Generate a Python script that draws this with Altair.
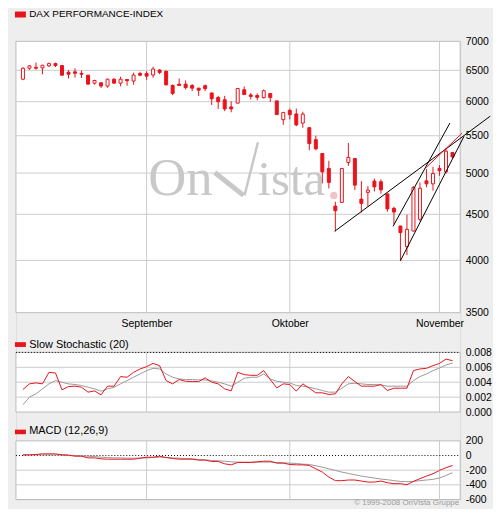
import altair as alt
import pandas as pd

# ---------------- data ----------------
day_index = list(range(67))
open_ = [6355, 6535, 6551, 6541, 6575, 6613, 6580, 6469, 6475, 6450,
         6420, 6291, 6297, 6244, 6355, 6291, 6350, 6325, 6448, 6448,
         6423, 6505, 6486, 6254, 6275, 6275, 6254, 6211, 6250, 6135,
         6065, 6030, 5920, 5978, 6186, 6104, 6096, 6063, 6127, 6012,
         5730, 5868, 5815, 5680, 5614, 5445, 5256, 5059, 4595, 4639,
         5137, 5189, 4678, 4759, 4898, 4890, 4740, 4569, 4367, 4143,
         4312, 4443, 4901, 4864, 5059, 5015, 5270]
high = [6551, 6585, 6630, 6592, 6630, 6630, 6585, 6502, 6535, 6497,
        6425, 6345, 6300, 6362, 6370, 6395, 6355, 6462, 6476, 6485,
        6560, 6522, 6495, 6270, 6366, 6334, 6275, 6215, 6270, 6140,
        6090, 6090, 6005, 6215, 6238, 6135, 6127, 6190, 6135, 6015,
        5843, 5895, 5895, 5847, 5620, 5500, 5260, 5158, 4646, 5065,
        5399, 5195, 4898, 4836, 4930, 4920, 4745, 4587, 4370, 4497,
        4836, 4880, 5050, 5080, 5101, 5324, 5275]
low = [6339, 6508, 6513, 6436, 6558, 6555, 6415, 6366, 6380, 6375,
       6270, 6266, 6215, 6218, 6280, 6240, 6250, 6265, 6403, 6345,
       6378, 6436, 6255, 6100, 6249, 6190, 6164, 6090, 6165, 5950,
       5890, 5856, 5840, 5972, 6104, 6035, 6022, 6048, 5995, 5800,
       5655, 5735, 5635, 5612, 5300, 5300, 4869, 4807, 4307, 4635,
       5092, 4787, 4520, 4590, 4770, 4745, 4530, 4385, 3995, 4056,
       4307, 4420, 4820, 4779, 4965, 4994, 5189]
close = [6535, 6575, 6535, 6585, 6613, 6580, 6420, 6436, 6452, 6436,
         6275, 6334, 6245, 6355, 6291, 6355, 6330, 6423, 6420, 6405,
         6522, 6465, 6264, 6128, 6254, 6220, 6211, 6179, 6203, 6045,
         6000, 5890, 5890, 6206, 6110, 6080, 6067, 6170, 6063, 5805,
         5838, 5805, 5655, 5812, 5390, 5320, 5015, 4882, 4541, 5059,
         5203, 4848, 4627, 4787, 4827, 4790, 4562, 4526, 4294, 4330,
         4820, 4809, 4864, 4994, 5030, 5287, 5210]

price_ticks = [3500, 4000, 4500, 5000, 5500, 6000, 6500, 7000]
month_labels = ["September", "Oktober", "November"]
month_index = [19, 41, 64]

trend_name = ["t1", "t1", "t2", "t2", "t3", "t3", "t4", "t4"]
trend_day = [47.9, 71.8, 56.87, 65.6, 57.99, 67.77, 61.87, 67.47]
trend_price = [4309, 5782, 4364, 5681, 3995, 5492, 5065, 5536]

stoch_k = [0.00302, 0.00378, 0.00391, 0.00378, 0.00533, 0.00524, 0.00298, 0.00342, 0.00347, 0.00333,
           0.00267, 0.00284, 0.00231, 0.00347, 0.00347, 0.00476, 0.00467, 0.00533, 0.00578, 0.00609,
           0.00653, 0.00622, 0.00422, 0.00378, 0.00436, 0.00413, 0.00409, 0.00409, 0.00458, 0.00400,
           0.00378, 0.00311, 0.00284, 0.00533, 0.00502, 0.00493, 0.00493, 0.00556, 0.00436, 0.00324,
           0.00378, 0.00369, 0.00280, 0.00378, 0.00320, 0.00258, 0.00258, 0.00236, 0.00244, 0.00378,
           0.00476, 0.00409, 0.00347, 0.00347, 0.00347, 0.00369, 0.00289, 0.00320, 0.00320, 0.00320,
           0.00556, 0.00578, 0.00587, 0.00622, 0.00653, 0.00711, 0.00689]
stoch_d = [0.00098, 0.00200, 0.00244, 0.00311, 0.00378, 0.00422, 0.00400, 0.00378, 0.00369, 0.00356,
           0.00333, 0.00311, 0.00280, 0.00311, 0.00333, 0.00378, 0.00422, 0.00467, 0.00511, 0.00556,
           0.00587, 0.00578, 0.00511, 0.00467, 0.00444, 0.00436, 0.00436, 0.00431, 0.00431, 0.00418,
           0.00400, 0.00378, 0.00347, 0.00400, 0.00453, 0.00467, 0.00467, 0.00511, 0.00444, 0.00413,
           0.00400, 0.00391, 0.00356, 0.00347, 0.00333, 0.00311, 0.00289, 0.00267, 0.00267, 0.00320,
           0.00378, 0.00387, 0.00378, 0.00369, 0.00369, 0.00364, 0.00347, 0.00347, 0.00347, 0.00347,
           0.00422, 0.00476, 0.00511, 0.00556, 0.00591, 0.00631, 0.00658]
stoch_ticks = [0.0, 0.002, 0.004, 0.006, 0.008]

macd = [9, 9, 14, 23, 23, 23, 9, 5, -9, -9,
        -32, -32, -45, -50, -50, -50, -50, -50, -36, -23,
        -23, -9, -27, -41, -50, -50, -50, -63, -63, -81,
        -81, -113, -127, -95, -95, -95, -86, -77, -77, -104,
        -104, -122, -127, -127, -136, -181, -226, -294, -343, -343,
        -334, -334, -348, -362, -362, -348, -371, -384, -384, -398,
        -353, -316, -280, -249, -203, -167, -136]
macd_signal = [9, 9, 9, 9, 9, 9, 9, 5, 0, -5,
               -9, -14, -23, -27, -32, -32, -36, -36, -36, -32,
               -27, -23, -27, -32, -36, -41, -45, -54, -59, -68,
               -72, -77, -86, -90, -90, -90, -90, -90, -90, -95,
               -99, -104, -108, -118, -122, -140, -158, -181, -203, -226,
               -244, -262, -280, -294, -307, -321, -330, -343, -353, -357,
               -353, -343, -334, -325, -307, -271, -235]
macd_ticks = [200, 0, -200, -400, -600]

# ---------------- frames ----------------
candles = pd.DataFrame({"i": day_index, "open": open_, "high": high, "low": low, "close": close})
months = pd.DataFrame({"i": month_index, "name": month_labels})
trend = pd.DataFrame({"name": trend_name, "i": trend_day, "price": trend_price})
osc = pd.DataFrame({"i": day_index, "k": stoch_k, "d": stoch_d, "macd": macd, "sig": macd_signal})

# ---------------- styling ----------------
RED = "#e8141c"
GRID = "#cccccc"
BORDER = "#bcbcbc"
WM = "#c8c8c8"
FONT = "Liberation Sans"
W = 447
H = 461
P_TOP, P_BOT = 0, 273
S_TOP, S_BOT = 313, 373
M_TOP, M_BOT = 402, 461

xsc = alt.Scale(domain=[-0.31, 66.42], nice=False, zero=False)
ysc_p = alt.Scale(type="log", domain=[price_ticks[0], price_ticks[-1]], range=[P_BOT, P_TOP], nice=False)
ysc_s = alt.Scale(domain=[stoch_ticks[0], stoch_ticks[-1]], range=[S_BOT, S_TOP], nice=False, zero=False)
ysc_m = alt.Scale(domain=[macd_ticks[-1], macd_ticks[0]], range=[M_BOT, M_TOP], nice=False, zero=False)

one = alt.Data(values=[{"k": 0}])


def ax_right(values, expr):
    return alt.Axis(orient="right", values=values, labelExpr=expr, grid=False, domain=False,
                    ticks=False, labelPadding=5, labelFontSize=10.5, labelFont=FONT,
                    labelColor="black", title=None)


month_expr = " : ".join(
    f"datum.value == {i} ? '{n}'" for i, n in zip(month_index[:-1], month_labels[:-1])
) + f" : '{month_labels[-1]}'"
month_axis = alt.Axis(orient="bottom", values=month_index, labelExpr=month_expr, offset=-(H - P_BOT),
                      grid=False, domain=False, ticks=False, labelPadding=6, labelAlign="center",
                      labelFontSize=10.5, labelFont=FONT, labelColor="black", labelFlush=False,
                      labelOverlap=False, title=None)

X = alt.X("i:Q", scale=xsc, axis=month_axis)


def panel_bg(top, bot):
    return alt.Chart(one).mark_rect(fill="white", stroke=BORDER, strokeWidth=1).encode(
        x=alt.value(0), x2=alt.value(W), y=alt.value(top), y2=alt.value(bot))


def month_grid(top, bot):
    return alt.Chart(months).mark_rule(color=GRID, strokeWidth=1).encode(
        x=X, y=alt.value(top), y2=alt.value(bot))


def hgrid(vals, sc, color=GRID, dash=None):
    kw = dict(color=color, strokeWidth=1)
    if dash:
        kw["strokeDash"] = dash
    return alt.Chart(pd.DataFrame({"v": vals})).mark_rule(**kw).encode(
        y=alt.Y("v:Q", scale=sc, axis=None), x=alt.value(0), x2=alt.value(W))


def header(text, sq_top, sq_bot, base_y, size):
    sq = alt.Chart(one).mark_rect(color=RED).encode(
        x=alt.value(-1), x2=alt.value(10), y=alt.value(sq_top), y2=alt.value(sq_bot))
    tx = alt.Chart(one).mark_text(text=text, font=FONT, fontSize=size, align="left",
                                  baseline="alphabetic", color="black").encode(
        x=alt.value(13.3), y=alt.value(base_y))
    return [sq, tx]


# ---------------- price panel ----------------
wm_on = alt.Chart(one).mark_text(text="On", font="Liberation Serif", fontSize=53, color=WM,
                                 align="left", baseline="alphabetic").encode(x=alt.value(133), y=alt.value(155))
wm_ista = alt.Chart(one).mark_text(text="ista", font="Liberation Serif", fontSize=49, color=WM,
                                   align="left", baseline="alphabetic").encode(x=alt.value(243), y=alt.value(155))
wm_v1 = alt.Chart(one).mark_rule(color=WM, strokeWidth=5).encode(
    x=alt.value(200), x2=alt.value(229), y=alt.value(132), y2=alt.value(155))
wm_v2 = alt.Chart(one).mark_rule(color=WM, strokeWidth=2.5).encode(
    x=alt.value(230), x2=alt.value(243.5), y=alt.value(155), y2=alt.value(101.5))
wm_dot = alt.Chart(one).mark_circle(color="#f0c4c4", size=55, opacity=1).encode(
    x=alt.value(319.8), y=alt.value(155))

wicks = alt.Chart(candles).mark_rule(color=RED, strokeWidth=1).encode(
    x=X,
    y=alt.Y("low:Q", scale=ysc_p, axis=ax_right(price_ticks, "format(datum.value, 'd')")),
    y2="high:Q")
bodies = alt.Chart(candles).mark_bar(size=3, stroke=RED, strokeWidth=1).encode(
    x=X,
    y=alt.Y("open:Q", scale=ysc_p, axis=None),
    y2="close:Q",
    fill=alt.condition("datum.close > datum.open", alt.value("white"), alt.value(RED)))
lines = alt.Chart(trend).mark_line(clip=False, strokeWidth=1).encode(
    x=X,
    y=alt.Y("price:Q", scale=ysc_p, axis=None),
    detail="name:N",
    color=alt.Color("name:N", scale=alt.Scale(domain=["t1", "t2", "t3", "t4"],
                                              range=["black", "black", "black", RED]), legend=None))

price_layers = [
    panel_bg(P_TOP, P_BOT), hgrid(price_ticks[1:-1], ysc_p), month_grid(P_TOP, P_BOT),
    wm_on, wm_ista, wm_v1, wm_v2, wm_dot,
    wicks, bodies, lines,
] + header("DAX PERFORMANCE-INDEX", -30, -24, -24, 10)

# ---------------- stochastic panel ----------------
s_d = alt.Chart(osc).mark_line(color="#999999", strokeWidth=1).encode(
    x=X, y=alt.Y("d:Q", scale=ysc_s, axis=None))
s_k = alt.Chart(osc).mark_line(color=RED, strokeWidth=1).encode(
    x=X,
    y=alt.Y("k:Q", scale=ysc_s, axis=ax_right(stoch_ticks, "format(datum.value, '.3f')")))
stoch_layers = [
    panel_bg(S_TOP, S_BOT), hgrid(stoch_ticks[1:-1], ysc_s), month_grid(S_TOP, S_BOT),
    hgrid(stoch_ticks[-1:], ysc_s, color="black", dash=[1, 2]),
    s_d, s_k,
] + header("Slow Stochastic (20)", 302.7, 307.5, 308.3, 11)

# ---------------- MACD panel ----------------
m_s = alt.Chart(osc).mark_line(color="#999999", strokeWidth=1).encode(
    x=X, y=alt.Y("sig:Q", scale=ysc_m, axis=None))
m_m = alt.Chart(osc).mark_line(color=RED, strokeWidth=1).encode(
    x=X,
    y=alt.Y("macd:Q", scale=ysc_m, axis=ax_right(macd_ticks, "'' + datum.value")))
copyright_ = alt.Chart(one).mark_text(text="© 1999-2008 OnVista Gruppe", font=FONT, fontSize=8,
                                      align="right", baseline="alphabetic", color="#9a9a9a").encode(
    x=alt.value(W - 1), y=alt.value(466.6))
macd_layers = [
    panel_bg(M_TOP, M_BOT), hgrid([t for t in macd_ticks if macd_ticks[-1] < t < 0], ysc_m),
    month_grid(M_TOP, M_BOT),
    hgrid([0], ysc_m, color="black", dash=[1, 2]),
    m_s, m_m, copyright_,
] + header("MACD (12,26,9)", 390.7, 395.3, 395, 11)

chart = alt.layer(*(price_layers + stoch_layers + macd_layers)).resolve_scale(
    y="independent"
).properties(
    width=W, height=H, background="#eeeeee",
    padding={"left": 7, "top": 0, "right": 0, "bottom": 0},
).configure_view(stroke=None).configure(font=FONT)

chart.save("out.html", embed_options={"renderer": "svg", "actions": False})
